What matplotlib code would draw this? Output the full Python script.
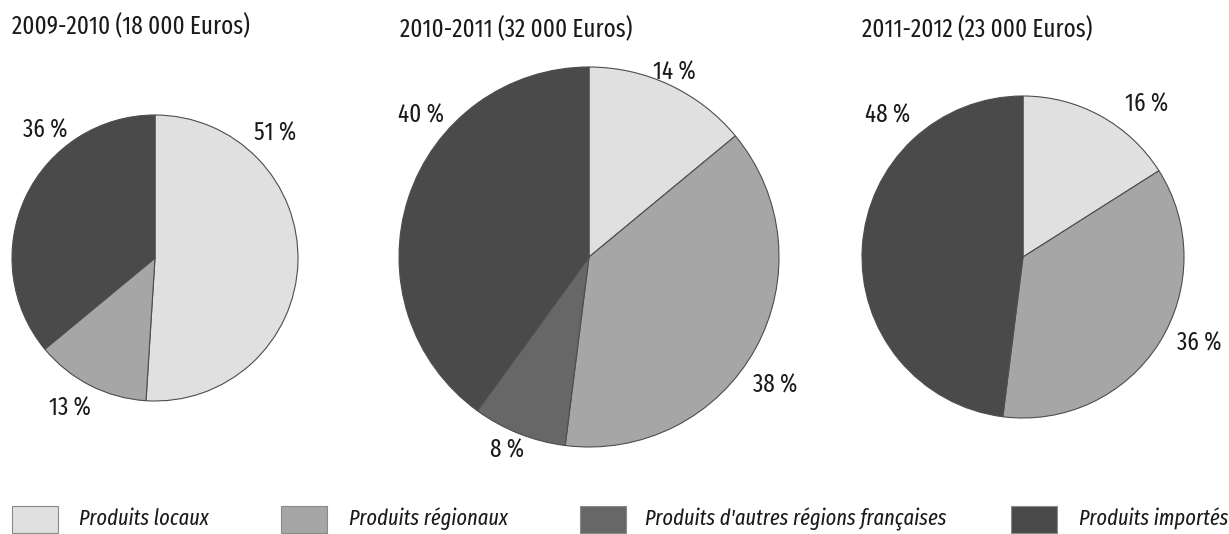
"""Three pie charts: origin of purchased products per school year."""

import matplotlib

matplotlib.use("Agg")
import matplotlib.pyplot as plt
from matplotlib.patches import Rectangle

# --- data -------------------------------------------------------------------
categories = [
    "Produits locaux",
    "Produits régionaux",
    "Produits d'autres régions françaises",
    "Produits importés",
]
years = ["2009-2010", "2010-2011", "2011-2012"]
budgets = ["18 000", "32 000", "23 000"]

# shares in %, same order as categories (0 = not present that year)
shares_2009 = [51, 13, 0, 36]
shares_2010 = [14, 38, 8, 40]
shares_2011 = [16, 36, 0, 48]

# --- layout (pixel coordinates, y measured from the top) -------------------
W, H = 1229, 534
colors = ["#e0e0e0", "#a6a6a6", "#676767", "#4a4a4a"]
pie_centers = [(155, 258), (589, 257), (1023, 257)]
pie_radii = [143, 190, 161]
title_pos = [(12, 27), (400, 30), (862, 30)]
label_pos = [
    [(275, 133), (70, 408), None, (45, 130)],
    [(674, 72), (775, 385), (507, 450), (421, 115)],
    [(1147, 104), (1199, 343), None, (888, 115)],
]
legend_boxes = [12, 281, 580, 1011]
legend_text_x = [79, 349, 645, 1079]
legend_y = 519

plt.rcParams["font.family"] = ["Fira Sans Extra Condensed", "DejaVu Sans"]
FS = 18
FS_LEGEND = 16

fig = plt.figure(figsize=(W / 100, H / 100), dpi=100)
ax = fig.add_axes([0, 0, 1, 1])

all_shares = [shares_2009, shares_2010, shares_2011]
for i, shares in enumerate(all_shares):
    keep = [k for k, v in enumerate(shares) if v > 0]
    cx, cy = pie_centers[i]
    ax.pie(
        [shares[k] for k in keep],
        colors=[colors[k] for k in keep],
        startangle=90,
        counterclock=False,
        center=(cx, H - cy),
        radius=pie_radii[i],
        wedgeprops=dict(edgecolor="#4d4d4d", linewidth=0.8),
        frame=True,
    )
    for k in keep:
        lx, ly = label_pos[i][k]
        ax.text(lx, H - ly, f"{shares[k]} %", ha="center", va="center",
                fontsize=FS, color="#1a1a1a")
    tx, ty = title_pos[i]
    ax.text(tx, H - ty, f"{years[i]} ({budgets[i]} Euros)", ha="left",
            va="center", fontsize=FS, color="#1a1a1a")

# legend drawn as swatches + italic labels along the bottom
for k, name in enumerate(categories):
    ax.add_patch(Rectangle((legend_boxes[k], H - 533), 46, 27,
                           facecolor=colors[k], edgecolor="#8a8a8a",
                           linewidth=0.8))
    ax.text(legend_text_x[k], H - legend_y, name, ha="left", va="center",
            fontsize=FS_LEGEND, style="italic", color="#1a1a1a")

ax.set_xlim(0, W)
ax.set_ylim(0, H)
ax.set_aspect("equal")
ax.axis("off")

fig.savefig("out.png", dpi=100)
plt.close(fig)
